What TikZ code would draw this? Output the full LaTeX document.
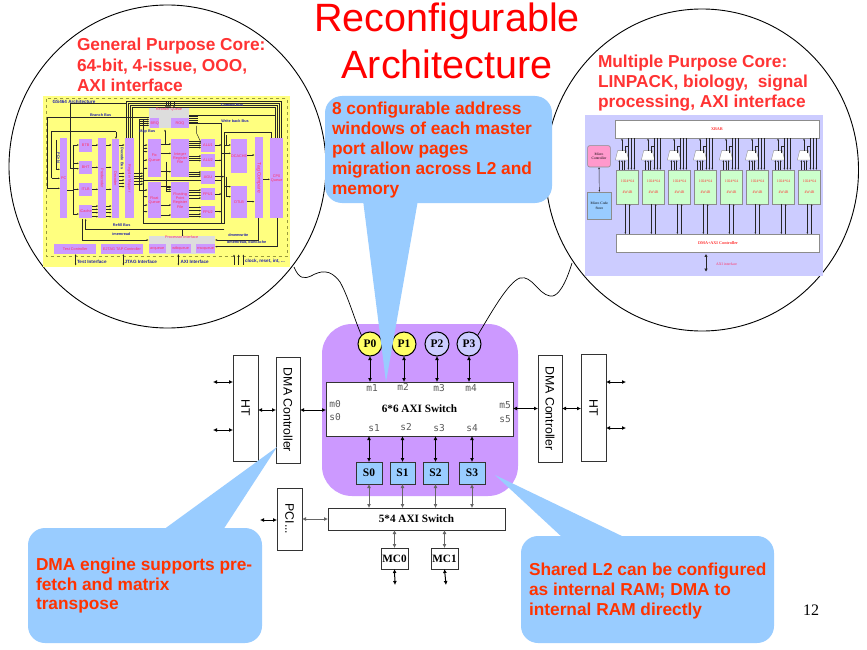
\documentclass[tikz,border=0pt]{standalone}
\usepackage{fontspec}
\setmainfont{Liberation Serif}
\newfontfamily\arial{Liberation Sans}
\newfontfamily\monof{DejaVu Sans Mono}
\usetikzlibrary{arrows.meta,shapes.geometric,calc}
\definecolor{calloutblue}{HTML}{99CCFF}
\definecolor{purp}{HTML}{CC99FF}
\definecolor{lav}{HTML}{CCCCFF}
\definecolor{yel}{HTML}{FFFF66}
\definecolor{yel2}{HTML}{FFFF99}
\definecolor{callred}{HTML}{FF3300}
\definecolor{corered}{HTML}{FF3333}
\definecolor{mred}{HTML}{FF3366}
\definecolor{mblue}{HTML}{2222AA}
\definecolor{mgray}{HTML}{DDDDDD}
\definecolor{mgreen}{HTML}{CCFFCC}
\definecolor{mpink}{HTML}{FF99CC}
\newcommand{\fs}[2]{\fontsize{#1}{#2}\selectfont}
% name,x0,y0,x1,y1,style,text : box given by its corners, px
\newcommand{\bx}[7]{%
  \pgfmathsetmacro\bxw{(#4)-(#2)}\pgfmathsetmacro\bxh{(#5)-(#3)}%
  \node[#6,minimum width=\bxw pt,minimum height=\bxh pt] (#1) at ({((#2)+(#4))/2},{((#3)+(#5))/2}) {#7};}
% the same inside the 3x zoomed insets
\newcommand{\zb}[7]{%
  \pgfmathsetmacro\bxw{((#4)-(#2))/3}\pgfmathsetmacro\bxh{((#5)-(#3))/3}%
  \node[#6,minimum width=\bxw pt,minimum height=\bxh pt] (#1) at ({((#2)+(#4))/2},{((#3)+(#5))/2}) {#7};}
\tikzset{
  every node/.style={inner sep=0pt,outer sep=0pt},
  box/.style={draw=black!80,line width=1pt,fill=white,rectangle},
  smem/.style={box,fill=calloutblue,font=\bfseries\fs{11.5}{12}},
  swbox/.style={box,font=\bfseries\fs{11.2}{12}},
  rarial/.style={font=\arial\fs{12.3}{14}},
  core/.style={circle,draw=black,line width=1pt,minimum size=24pt,font=\bfseries\fs{11.5}{12}},
  portlbl/.style={font=\monof\fs{9.5}{10},text=black!65},
  dbl/.style={line width=1pt,black,{Latex[length=4pt,width=4pt]}-{Latex[length=4pt,width=4pt]}},
  gdbl/.style={line width=1pt,black!60,{Latex[length=4pt,width=4pt]}-{Latex[length=4pt,width=4pt]}},
  wire/.style={black,line width=.7pt},
  bigc/.style={ellipse,draw=black,line width=.9pt,fill=white},
  corett/.style={font=\arial\bfseries\fs{17.3}{20.4},text=corered,align=left,anchor=west},
  calltt/.style={font=\arial\bfseries\fs{17.3}{19.8},text=callred,align=left,anchor=west},
  callshape/.style={fill=calloutblue},
  mw/.style={line width=.45pt,black!85},
  mar/.style={mw,-{Latex[length=2pt,width=1.7pt]}},
  mbd/.style={line width=.45pt,black!85,{Latex[length=2pt,width=1.7pt]}-{Latex[length=2pt,width=1.7pt]}},
  mp/.style={rectangle,fill=purp,text=mred,font=\arial\fs{3.8}{4.4},align=center},
  mg/.style={rectangle,fill=mgray,text=mred,font=\arial\fs{3.8}{4.4},align=center},
  mt/.style={text=mblue,font=\arial\bfseries\fs{3.8}{4.4}},
  mtk/.style={text=mblue,font=\arial\bfseries\fs{4.6}{5}},
  xb/.style={rectangle,draw=black!45,line width=.6pt,fill=white,text=red!80,font=\bfseries\fs{4.2}{5}},
  cellb/.style={rectangle,draw=black!45,line width=.6pt,fill=mgreen,text=red!80,font=\fs{3.8}{11},align=center},
  muxb/.style={draw=black!45,line width=.4pt,fill=white},
}
\begin{document}
\begin{tikzpicture}[x=1pt,y=-1pt]
\useasboundingbox (0,0) rectangle (867,650);
\fill[white] (0,0) rectangle (867,650);

% big circles
\node[bigc,minimum width=317pt,minimum height=323pt] (leftc) at (167.5,166.5) {};
\node[bigc,minimum width=313pt,minimum height=322pt] (rightc) at (702,170) {};

% ---------- GS464 inset ----------
\begin{scope}[shift={(30,90)},x=.33333pt,y=-.33333pt]
\fill[yel2] (39,19) rectangle (780,531);
\fill[yel,opacity=.5] (39,19) rectangle (780,531);
\draw[yel!60!black,line width=.4pt,dashed] (48,26) rectangle (772,498);
\node[mtk,anchor=west] (gstitle) at (68,37) {GS464  Architecture};
% lines under the boxes
\foreach \o in {0,6,12,18}{\draw[mw] ({288+\o},145)--({288+\o},{33+\o})--({755-\o},{33+\o})--({755-\o},145);}
\foreach \x in {408,414,420,432}{\draw[mar] (\x,36)--(\x,53);}
\draw[mw] (52,83)--(358,83); \draw[mar] (52,83)--(52,295)--(90,295);
\draw[mw] (122,40)--(288,40); \draw[mw] (122,40)--(122,236);
\draw[mar] (65,265)--(90,265); \draw[mw] (65,265)--(65,125)--(258,125); \draw[mar] (258,125)--(258,147);
\draw[mar] (80,150)--(80,238)--(90,238);
\draw[mw] (112,300)--(130,300); \draw[mw] (130,165)--(130,372);
\foreach \y in {165,220,298,372}{\draw[mar] (130,\y)--(147,\y);}
\draw[mar] (122,236)--(147,236);
\foreach \y in {165,232,298,348,358,368,380}{\draw[mar] (187,\y)--(205,\y); \draw[mar] (228,\y)--(245,\y);}
\draw[mar] (268,165)--(284,165);
\foreach \y in {250,260,270,280,290}{\draw[mar] (268,\y)--(284,\y);}
\foreach \y in {250,258,266,274,282}{\draw[mar] (312,\y)--(340,\y);}
\draw[mw,line width=.7pt] (340,88)--(340,400)--(583,400)--(583,128)--(725,128)--(725,145);
\draw[mw] (328,88)--(328,300)--(340,300);
\draw[mw,line width=.7pt] (340,270)--(575,270);
\foreach \y in {88,94,100,106}{\draw[mar] (330,\y)--(358,\y);}
\foreach \y in {165,175,185,210,235,300,320,345,365}{\draw[mar] (340,\y)--(353,\y);}
\foreach \y in {162,190,245,290,345,375}{\draw[mar] (393,\y)--(424,\y);}
\draw[mar] (405,162)--(405,118);
\draw[mw] (410,215)--(410,305);
\foreach \y in {292,298,304}{\draw[mar] (410,\y)--(424,\y);}
\foreach \y in {155,161,167,173,198,205,212,246,252,258,300,308,316,324,352,362,372,380}{\draw[mar] (477,\y)--(514,\y);}
\foreach \y in {78,84,90,96}{\draw[mw] (477,\y)--(505,\y);}
\draw[mw] (477,76)--(735,76)--(735,145);
\draw[mw] (477,100)--(575,100)--(575,400);
\draw[mar] (500,108)--(500,130)--(514,160);
\foreach \y in {165,211,312,365}{\draw[mar] (554,\y)--(575,\y);}
\draw[mar] (554,260)--(583,260);
\draw[mw] (590,135)--(590,165); \draw[mar] (583,165)--(603,165); \draw[mar] (575,190)--(603,190);
\draw[mw] (590,260)--(590,320); \draw[mar] (590,320)--(603,320); \draw[mar] (583,290)--(603,290);
\draw[mar] (652,195)--(674,195); \draw[mar] (652,335)--(674,335); \draw[mar] (699,268)--(720,268);
\draw[mar] (583,418)--(167,418)--(167,386);
\draw[mar] (157,386)--(157,450)--(356,450);
\draw[mw] (457,418)--(457,437);
\draw[mar] (685,385)--(685,450)--(555,450);
\draw[mar] (742,385)--(742,470)--(555,470);
% boxes
\zb{pc}{90}{145}{112}{385}{mp}{PC}
\zb{btb}{147}{147}{187}{187}{mp}{BTB}
\zb{bht}{147}{212}{187}{253}{mp}{BHT}
\zb{itlb}{147}{278}{187}{318}{mp}{ITLB}
\zb{icache}{147}{344}{187}{385}{mp}{ICache}
\zb{predec}{205}{145}{228}{385}{mp}{\rotatebox{-90}{Predecoder}}
\zb{decod}{245}{147}{268}{385}{mp}{\rotatebox{-90}{Decoder}}
\zb{regmap}{284}{145}{312}{385}{mp}{\rotatebox{-90}{Register Mapper}}
\zb{fixq}{353}{147}{393}{262}{mp}{Fix\\Queue}
\zb{floatq}{353}{277}{393}{385}{mp}{Float\\Queue}
\zb{intrf}{424}{147}{477}{262}{mp}{Integer\\Register\\File}
\zb{fprf}{424}{277}{477}{385}{mp}{Floating\\Point\\Register\\File}
\zb{alua}{514}{147}{554}{185}{mp}{ALU1}
\zb{alub}{514}{192}{554}{230}{mp}{ALU2}
\zb{agu}{514}{243}{554}{283}{mp}{AGU}
\zb{fpua}{514}{293}{554}{330}{mp}{FPU1}
\zb{fpub}{514}{347}{554}{385}{mp}{FPU2}
\zb{dcache}{603}{147}{652}{250}{mp}{DCACHE}
\zb{dtlb}{603}{288}{652}{385}{mp}{DTLB}
\zb{tagc}{674}{142}{699}{385}{mp}{\rotatebox{-90}{\fs{5}{5}Tag Compare}}
\zb{cpq}{720}{145}{760}{385}{mp}{CP0\\Queue}
\fill[mgray] (358,53) rectangle (477,115);
\node[mg,fill=none] (reorder) at (417,59) {Reorder Queue};
\zb{brq}{360}{85}{388}{115}{mp}{BRQ}
\zb{roq}{423}{85}{477}{115}{mp}{ROQ}
\fill[mgray] (356,437) rectangle (555,492);
\node[mg,fill=none] (procif) at (455,442) {Processor Interface};
\zb{arq}{356}{463}{407}{490}{mp}{arqueue}
\zb{wbq}{422}{463}{482}{490}{mp}{wtbqueue}
\zb{rsq}{498}{463}{555}{490}{mp}{rrscqueue}
\zb{testc}{73}{463}{198}{492}{mp}{Test Controller}
\zb{ejtag}{214}{463}{338}{492}{mp}{EJTAG TAP Controller}
% bus labels
\node[mt] (l1) at (606,44) {Commit Bus};
\node[mt] (l2) at (615,93) {Write back Bus};
\node[mt] (l3) at (212,76) {Branch Bus};
\node[mt] (l4) at (352,124) {Map Bus};
\node[mt] (l5) at (277,205) {\rotatebox{-90}{Decode Bus}};
\node[mt] (l6) at (85,203) {\rotatebox{-90}{PC+N}};
\node[mt] (l7) at (275,404) {Refill Bus};
\node[mt] (l8) at (274,432) {imemread};
\node[mt] (l9) at (625,436) {dmemwrite};
\node[mt] (l10) at (650,457) {dmemread, duncache};
\node[mtk,anchor=west] (i1) at (141,515) {Test Interface};
\node[mtk,anchor=west] (i2) at (284,515) {JTAG Interface};
\node[mtk,anchor=west] (i3) at (452,515) {AXI Interface};
\node[mtk,anchor=west] (i4) at (645,514) {clock, reset, int, ...};
\draw[mbd] (137,492)--(137,527);
\draw[mbd] (280,492)--(280,527);
\draw[mbd,line width=.9pt] (445,492)--(445,527);
\foreach \x in {612,626,640}{\draw[mar] (\x,525)--(\x,493);}
\end{scope}

% ---------- vector core inset ----------
\begin{scope}[shift={(575,105)},x=.33333pt,y=-.33333pt]
\fill[lav] (30,30) rectangle (745,513);
\zb{xbar}{120}{47}{732}{100}{xb}{XBAR}
\zb{dmaaxi}{125}{388}{733}{442}{xb}{DMA+AXI Controller}
\zb{mctrl}{38}{122}{106}{186}{xb,fill=mpink,rounded corners=2pt,text=black,font=\fs{3.6}{4.4},align=center}{Micro\\Controller}
\zb{mstore}{37}{261}{109}{343}{xb,fill=calloutblue,text=black,font=\fs{3.6}{4.4},align=center}{Micro Code\\Store}
\draw[mbd] (mctrl.south)--(mstore.north);
\foreach \i in {0,...,7}{
  \pgfmathsetmacro\xa{125+78*\i}
  \pgfmathsetmacro\xe{\xa+65}
  \pgfmathsetmacro\xc{\xa+16}
  \zb{cell\i}{\xa}{195}{\xe}{297}{cellb}{1024*64\\4W4R}
  \draw[muxb] ({\xc-13},137) -- ({\xc+13},137) -- ({\xc+20},165) -- ({\xc-20},165) -- cycle;
  \draw[mar] (\xc,137) -- (\xc,100);
  \foreach \d in {-8,0,8}{\draw[mar] ({\xc+\d},195) -- ({\xc+\d},165);}
  \foreach \d in {35,44,53}{\draw[mar] ({\xa+\d},100) -- ({\xa+\d},195);}
  \draw[mw] ({\xa+25},145) -- ({\xa+25},123) -- ({\xa+35},123);
  \draw[mar] ({\xa+26},297) -- ({\xa+26},388);
  \draw[mar] ({\xa+39},388) -- ({\xa+39},297);
}
\node[coordinate] (axiend) at (393,500) {};
\draw[mbd,line width=1pt,{Latex[length=3pt,width=3.5pt]}-{Latex[length=3pt,width=3.5pt]}] (393,447) -- (axiend);
\node[text=mred,font=\fs{3.8}{4.4}] (axilab) at (455,477) {AXI interface};
\end{scope}

% core captions
\node[corett] (gpc) at (77,65) {General Purpose Core:\\64-bit, 4-issue, OOO,\\AXI interface};
\node[corett,font=\arial\bfseries\fs{17.3}{20}] (mpc) at (598,83) {Multiple Purpose Core:\\LINPACK, biology,\ \ signal\\processing, AXI interface};

% title
\node[font=\arial\fs{39.5}{46.5},text=red,align=center] (title) at (447,41) {Reconfigurable\\Architecture};

% purple SoC block
\fill[purp,rounded corners=30pt] (322,324) rectangle (518,496);

% main nodes
\bx{swa}{326}{382}{513}{436}{swbox}{6*6 AXI Switch}
\node[core,fill=yel] (P0) at (370,344) {P0};
\node[core,fill=yel] (P1) at (404,344) {P1};
\node[core,fill=lav] (P2) at (437,344) {P2};
\node[core,fill=lav] (P3) at (469,344) {P3};
\bx{S0}{356}{462}{382}{484}{smem}{S0}
\bx{S1}{390}{462}{415}{484}{smem}{S1}
\bx{S2}{423}{462}{448}{484}{smem}{S2}
\bx{S3}{459}{462}{485}{484}{smem}{S3}
\bx{HTl}{233}{355}{258}{461}{box,rarial}{\rotatebox{-90}{HT}}
\bx{DMAl}{276}{357}{300}{463}{box,rarial}{\rotatebox{-90}{DMA Controller}}
\bx{DMAr}{538}{355}{562}{462}{box,rarial}{\rotatebox{-90}{DMA Controller}}
\bx{HTr}{581}{354}{606}{461}{box,rarial}{\rotatebox{-90}{HT}}
\bx{PCI}{277}{488}{302}{550}{box,rarial}{\rotatebox{-90}{PCI...}}
\bx{swb}{328}{508}{505}{530}{swbox}{5*4 AXI Switch}
\bx{MCa}{381}{548}{408}{569}{swbox}{MC0}
\bx{MCb}{431}{548}{458}{569}{swbox}{MC1}

% port labels
\node[portlbl] (m1) at (372,388) {m1};
\node[portlbl] (m2) at (403,387) {m2};
\node[portlbl] (m3) at (439,388) {m3};
\node[portlbl] (m4) at (471,388) {m4};
\node[portlbl] (m0) at (335,404) {m0};
\node[portlbl] (s0) at (335,417) {s0};
\node[portlbl] (m5) at (505,405) {m5};
\node[portlbl] (s5) at (505,419) {s5};
\node[portlbl] (s1) at (374,428) {s1};
\node[portlbl] (s2) at (406,427) {s2};
\node[portlbl] (s3) at (439,428) {s3};
\node[portlbl] (s4) at (472,428) {s4};

% free ends
\coordinate (hl1) at (213,382);
\coordinate (hl2) at (213,430);
\coordinate (hr1) at (626,382);
\coordinate (hr2) at (626,428);
\coordinate (pcl) at (260,520);
\coordinate (mca) at (395,585);
\coordinate (mcb) at (446,585);
\coordinate (wl) at (294,267);
\coordinate (wr) at (572,263);

% connectors
\draw[dbl] (P0.south) -- (P0.south |- swa.north);
\draw[dbl] (P1.south) -- (P1.south |- swa.north);
\draw[dbl] (P2.south) -- (P2.south |- swa.north);
\draw[dbl] (P3.south) -- (P3.south |- swa.north);
\draw[dbl] (S0.north) -- (S0.north |- swa.south);
\draw[dbl] (S1.north) -- (S1.north |- swa.south);
\draw[dbl] (S2.north) -- (S2.north |- swa.south);
\draw[dbl] (S3.north) -- (S3.north |- swa.south);
\draw[dbl] (hl1) -- (hl1 -| HTl.west);
\draw[dbl] (hl2) -- (hl2 -| HTl.west);
\draw[dbl] (HTl.east |- DMAl.west) -- (DMAl.west);
\draw[dbl] (DMAl.east) -- (DMAl.east -| swa.west);
\draw[dbl] (swa.east |- DMAr.west) -- (DMAr.west);
\draw[dbl] (DMAr.east) -- (DMAr.east -| HTr.west);
\draw[dbl] (hr1 -| HTr.east) -- (hr1);
\draw[dbl] (hr2 -| HTr.east) -- (hr2);
\draw[dbl] (pcl) -- (pcl -| PCI.west);
\draw[gdbl] (PCI.east |- swb.west) -- (swb.west);
\draw[gdbl] (S0.south) -- (S0.south |- swb.north);
\draw[gdbl] (S1.south) -- (S1.south |- swb.north);
\draw[gdbl] (S2.south) -- (S2.south |- swb.north);
\draw[gdbl] (S3.south) -- (S3.south |- swb.north);
\draw[gdbl] (MCa.north) -- (MCa.north |- swb.south);
\draw[gdbl] (MCb.north) -- (MCb.north |- swb.south);
\draw[dbl] (MCa.south) -- (mca);
\draw[dbl] (MCb.south) -- (mcb);
\draw[wire] (wl) .. controls (299,279) and (304,279) .. (311,276) .. controls (320,271) and (330,268) .. (340,282) .. controls (348,296) and (354,318) .. (P0.north west);
\draw[wire] (wr) .. controls (566,283) and (558,298) .. (550,296) .. controls (538,294) and (532,275) .. (520,278) .. controls (508,282) and (490,315) .. (P3.north east);

% callouts
\coordinate (tipa) at (386,382);
\coordinate (tipb) at (277,447);
\coordinate (tipc) at (495,475);
\fill[callshape,rounded corners=17pt] (325,96) rectangle (552,203);
\fill[callshape] (363,200) -- (tipa) -- (418,200) -- cycle;
\fill[callshape,rounded corners=17pt] (28,528) rectangle (262,643);
\fill[callshape] (163,530) -- (tipb) -- (223,530) -- cycle;
\fill[callshape,rounded corners=17pt] (521,536) rectangle (774,643);
\fill[callshape] (563,538) -- (tipc) -- (626,538) -- cycle;
\node[calltt] (ca) at (332,150) {8 configurable address\\windows of each master\\port allow pages\\migration across L2 and\\memory};
\node[calltt,font=\arial\bfseries\fs{17.3}{19.5}] (cb) at (36,586) {DMA engine supports pre-\\fetch and matrix\\transpose};
\node[calltt] (cc) at (529,591) {Shared L2 can be configured\\as internal RAM; DMA to\\internal RAM directly};
\node[font=\fs{16}{16}] (pagenum) at (811,610) {12};
\end{tikzpicture}
\end{document}
